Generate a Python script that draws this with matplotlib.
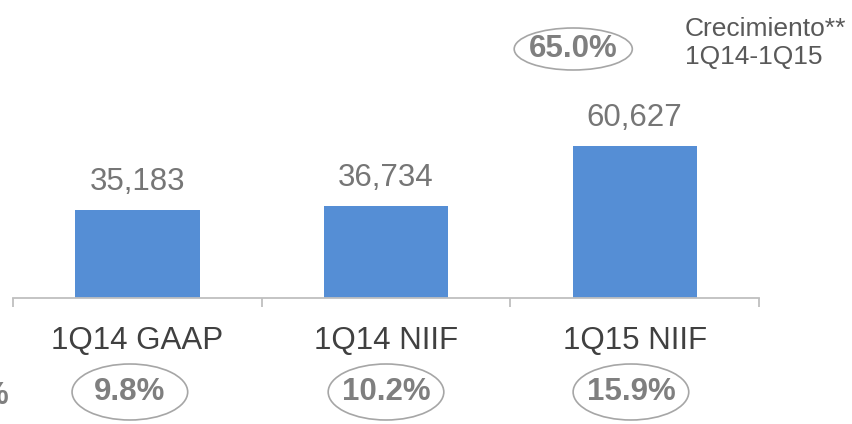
import matplotlib.pyplot as plt
from matplotlib.patches import Ellipse
from matplotlib.transforms import blended_transform_factory

plt.rcParams['font.family'] = ['Liberation Sans', 'DejaVu Sans']

# chart data
categories = ['1Q14 GAAP', '1Q14 NIIF', '1Q15 NIIF']
values = [35183, 36734, 60627]
value_labels = ['35,183', '36,734', '60,627']
margins = ['9.8%', '10.2%', '15.9%']
growth = '65.0%'
growth_title = 'Crecimiento**\n1Q14-1Q15'

W, H = 852, 424
fig = plt.figure(figsize=(W / 100, H / 100), dpi=100)
ax = fig.add_axes([13 / W, (H - 298) / H, (759 - 13) / W, 298 / H])

x = list(range(len(categories)))
ax.bar(x, values, width=0.5, color='#558ed5', zorder=2)
ax.set_xlim(-0.5, len(categories) - 0.5)
ax.set_ylim(0, 118500)

# value labels above bars
for xi, v, lab in zip(x, values, value_labels):
    ax.annotate(lab, (xi, v), xytext=(0, 20), textcoords='offset points',
                ha='center', va='center', fontsize=22.5, color='#767676')

# axis styling
for s in ['top', 'right', 'left']:
    ax.spines[s].set_visible(False)
ax.spines['bottom'].set_color('#bfbfbf')
ax.spines['bottom'].set_linewidth(1.3)
ax.set_yticks([])
ax.set_xticks(x)
ax.set_xticklabels(categories, fontsize=22.5, color='#404040')
ax.tick_params(axis='x', which='major', length=0, pad=20)
ax.set_xticks([i - 0.5 for i in range(len(categories) + 1)], minor=True)
ax.tick_params(axis='x', which='minor', length=6.5, width=1.3, color='#bfbfbf')

# margin ellipses below the categories
tr = blended_transform_factory(ax.transData, fig.transFigure)
offsets = [-0.03, 0.0, -0.015]
for xi, m, off in zip(x, margins, offsets):
    cx = xi + off
    ax.add_patch(Ellipse((cx, 1 - 392 / H), 0.465, 56 / H, transform=tr,
                         fill=False, edgecolor='#a6a6a6', linewidth=1.2, clip_on=False))
    ax.text(cx, 1 - 392 / H, m, transform=tr, ha='center', va='center',
            fontsize=22.5, fontweight='bold', color='#7f7f7f')

# growth annotation
gx = 1.753
ax.add_patch(Ellipse((gx, 1 - 49 / H), 0.475, 42 / H, transform=tr,
                     fill=False, edgecolor='#a6a6a6', linewidth=1.2, clip_on=False))
ax.text(gx, 1 - 49 / H, growth, transform=tr, ha='center', va='center',
        fontsize=22.5, fontweight='bold', color='#7f7f7f')
fig.text(685 / W, 1 - 43 / H, growth_title, ha='left', va='center',
         fontsize=19, color='#595959', linespacing=1.22)

# cut-off percent sign at the left edge
fig.text(8 / W, 1 - 396 / H, '%', ha='right', va='center',
         fontsize=22.5, fontweight='bold', color='#7f7f7f')

fig.savefig('out.png', dpi=100, facecolor='white')
